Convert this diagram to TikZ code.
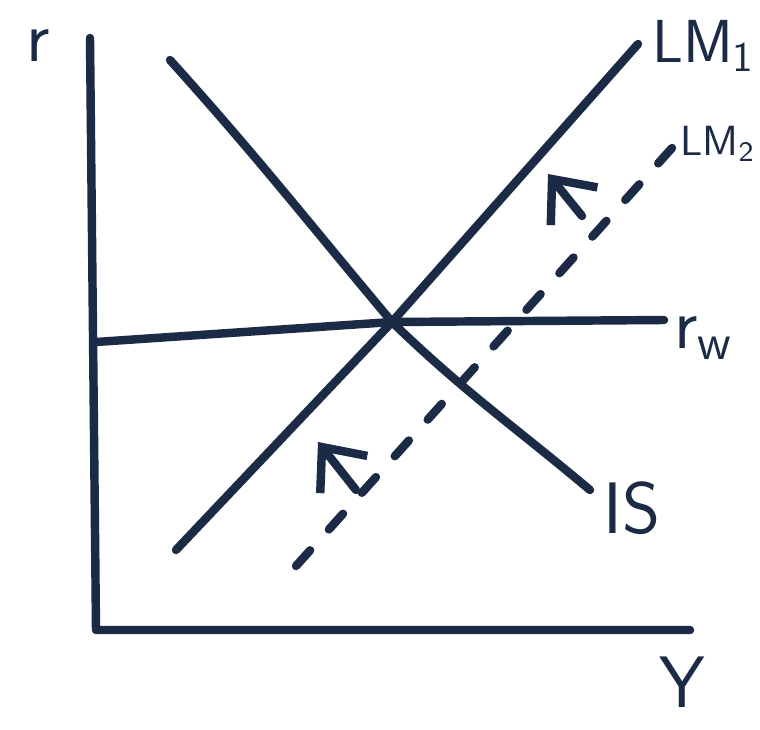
\documentclass[tikz,border=0pt]{standalone}
\usepackage{tikz}
\usetikzlibrary{arrows.meta,positioning,calc}
\definecolor{inkblue}{HTML}{1B2A45}

\begin{document}
\begin{tikzpicture}[x=0.01cm, y=-0.01cm,
  ink/.style={inkblue, line width=2.4pt, line cap=round, line join=round},
  shiftarrow/.style={ink, -{Straight Barb[length=3.5mm, width=6mm]}},
  lab/.style={inkblue, font=\huge\sffamily, inner sep=0pt}]
\useasboundingbox[fill=white] (0,0) rectangle (760,730);
% axes
\coordinate (top) at (90,38);
\coordinate (origin) at (96,630);
\coordinate (yend) at (690,630);
\draw[ink] (top) -- (origin) -- (yend);
\node[lab] (rlabel) at (38,46) {r};
\node[lab] (ylabel) at (682,682) {Y};
% equilibrium
\coordinate (eq) at (392,322);
% IS curve
\coordinate (is1) at (170,60);
\coordinate (is2) at (590,490);
\draw[ink] (is1) to[out=-48, in=130] (eq) to[out=-44, in=140] (is2);
\node[lab] (islabel) at (632,508) {IS};
% LM1
\coordinate (lm1a) at (176,550);
\coordinate (lm1b) at (638,44);
\draw[ink] (lm1a) -- (eq) -- (lm1b);
\node[lab, font=\LARGE\sffamily, anchor=east] (lm1label) at (756,46) {LM\textsubscript{1}};
% world interest rate
\coordinate (rw1) at (96,342);
\coordinate (rw2) at (664,320);
\draw[ink] (rw1) -- (eq) -- (rw2);
\node[lab] (rwlabel) at (704,338) {r\textsubscript{w}};
% LM2 (dashed)
\coordinate (lm2a) at (296,566);
\coordinate (lm2b) at (672,148);
\draw[ink, dash pattern=on 6pt off 8pt] (lm2a) -- (lm2b);
\node[lab, font=\large\sffamily, anchor=east] (lm2label) at (756,144) {LM\textsubscript{2}};
% shift arrows
\coordinate (arr1s) at (582,216);
\coordinate (arr1e) at (548,174);
\coordinate (arr2s) at (356,490);
\coordinate (arr2e) at (318,442);
\draw[shiftarrow] (arr1s) -- (arr1e);
\draw[shiftarrow] (arr2s) -- (arr2e);
\end{tikzpicture}
\end{document}
